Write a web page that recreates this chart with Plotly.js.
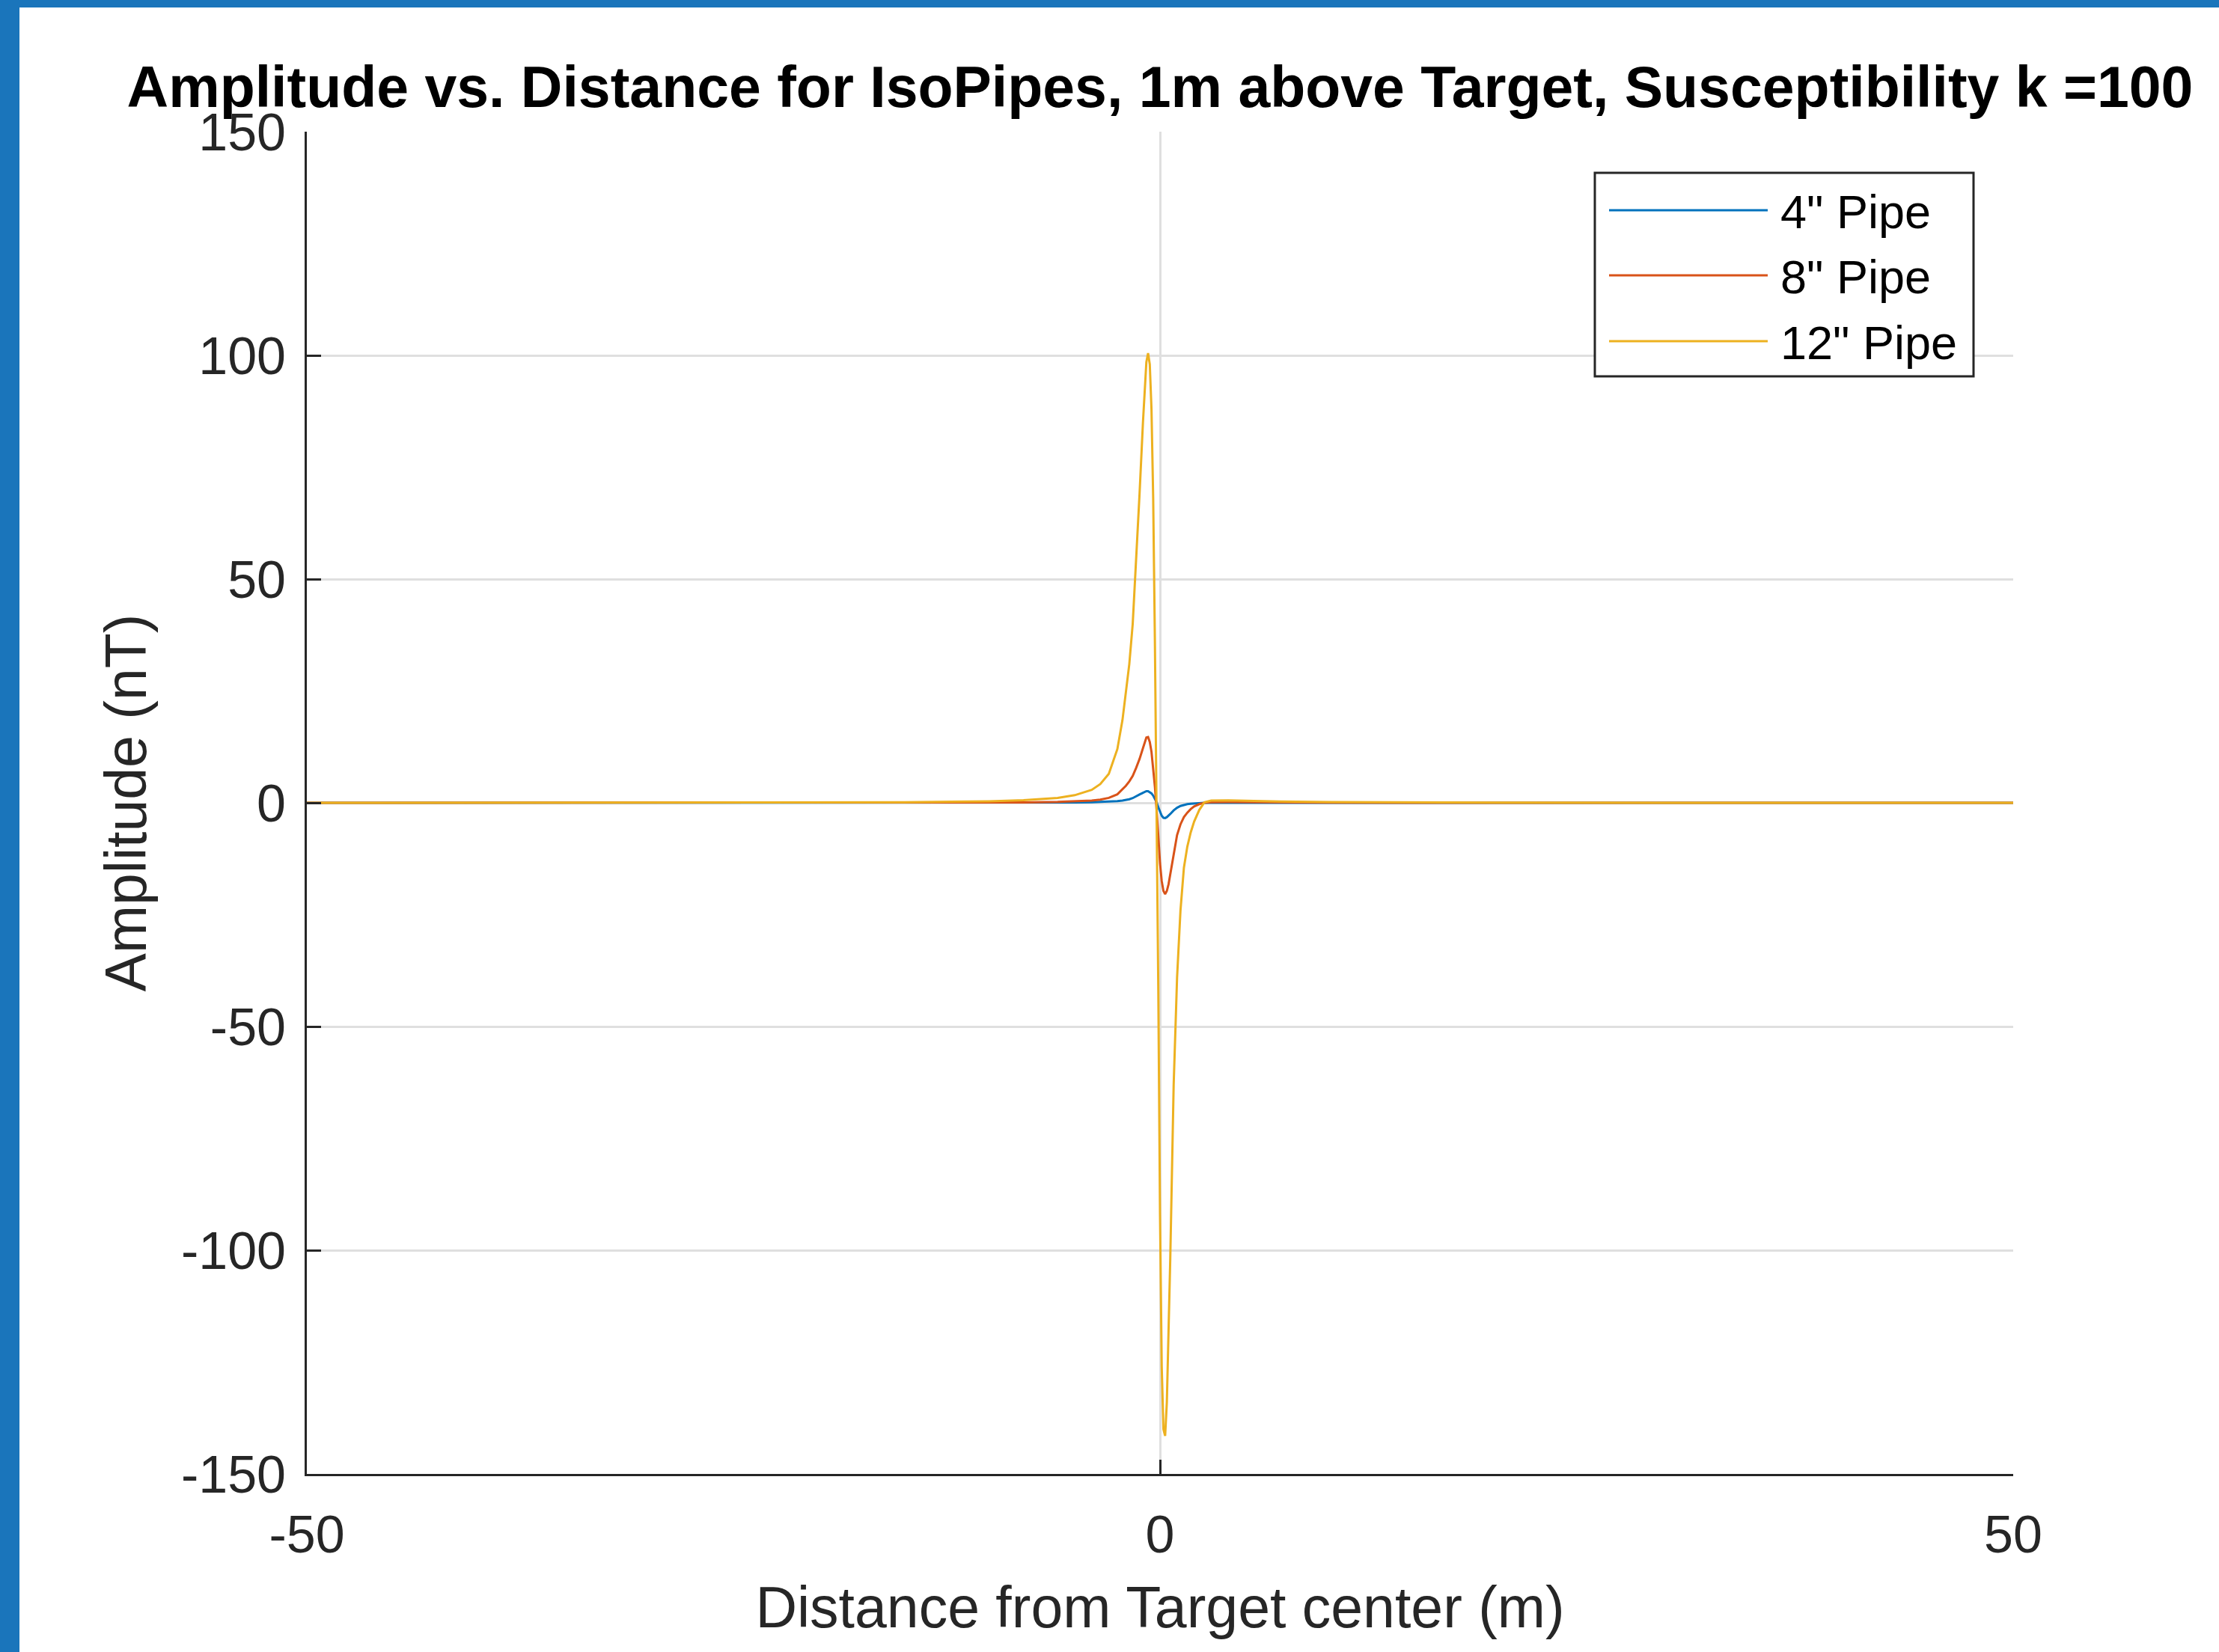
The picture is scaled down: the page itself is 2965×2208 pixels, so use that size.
<!DOCTYPE html>
<html>
<head>
<meta charset="utf-8">
<script src="https://cdn.plot.ly/plotly-3.0.1.min.js"></script>
<style>
  html, body { margin: 0; padding: 0; background: #ffffff; }
  #chart { width: 2965px; height: 2208px; }
</style>
</head>
<body>
<div id="chart"></div>
<script>
// ---------------- data ----------------
const distance = [-50, -30, -20, -15, -10, -8, -6, -5, -4, -3.5,
  -3, -2.5, -2.2, -2.0, -1.8, -1.6, -1.4, -1.2, -1.0, -0.9,
  -0.8, -0.7, -0.6, -0.5, -0.4, -0.3, -0.2, -0.1, 0, 0.1,
  0.2, 0.3, 0.4, 0.5, 0.6, 0.8, 1.0, 1.2, 1.4, 1.6,
  1.8, 2.0, 2.3, 2.6, 3, 4, 5, 7, 10, 15,
  20, 30, 50];

const pipe4 = [0, 0, 0, 0.01, 0.02, 0.03, 0.05, 0.08, 0.13, 0.18,
  0.25, 0.38, 0.5, 0.6, 0.8, 1.05, 1.4, 1.85, 2.25, 2.45,
  2.6, 2.6, 2.4, 2.1, 1.6, 0.9, 0.1, -1.0, -2.1, -2.9,
  -3.35, -3.4, -3.2, -2.9, -2.5, -1.7, -1.1, -0.7, -0.45, -0.3,
  -0.2, -0.12, -0.05, 0, 0.02, 0.03, 0.03, 0.02, 0.01, 0,
  0, 0, 0];

const pipe8 = [0, 0, 0.01, 0.02, 0.05, 0.1, 0.2, 0.3, 0.5, 0.7,
  1.1, 1.9, 3.0, 3.8, 4.8, 6.0, 7.8, 9.8, 12.2, 13.6,
  14.6, 14.7, 13.6, 11.4, 8.0, 3.6, -1.5, -7.5, -13.5, -17.5,
  -19.7, -20.4, -19.7, -18.2, -16.0, -11.0, -7.2, -4.8, -3.2, -2.2,
  -1.4, -0.8, -0.3, 0, 0.12, 0.15, 0.12, 0.08, 0.04, 0.02,
  0.01, 0, 0];

const pipe12 = [0, 0.01, 0.05, 0.12, 0.35, 0.6, 1.1, 1.7, 2.9, 4.2,
  6.5, 12, 18.5, 24.5, 31, 40, 54, 69, 85, 93,
  98.5, 100.5, 98, 88, 68, 36, 2, -42, -92, -126,
  -140, -141.5, -134, -120, -102, -63, -39, -24, -14.5, -9.8,
  -6.6, -4.2, -1.6, 0.1, 0.5, 0.55, 0.45, 0.3, 0.15, 0.06,
  0.03, 0.01, 0];

const seriesNames = ['4" Pipe', '8" Pipe', '12" Pipe'];
const seriesColors = ['#0072BD', '#D95319', '#EDB120'];
const seriesValues = [pipe4, pipe8, pipe12];

const xTickVals = [-50, 0, 50];
const xTickText = ['-50', '0', '50'];
const yTickVals = [-150, -100, -50, 0, 50, 100, 150];
const yTickText = ['-150', '-100', '-50', '0', '50', '100', '150'];

const titleText = 'Amplitude vs. Distance for IsoPipes, 1m above Target, Susceptibility k =100';
const xTitle = 'Distance from Target center (m)';
const yTitle = 'Amplitude (nT)';

// ---------------- layout geometry (pixels) ----------------
const W = 2965, H = 2208;
const L = 410, R = 2690, T = 176, B = 1970;
const xp = px => (px - L) / (R - L);
const yp = py => (B - py) / (B - T);

const FONT = 'Liberation Sans, Arial, sans-serif';
const AX = '#262626';
const GRID = '#dfdfdf';

const traces = seriesValues.map((vals, i) => ({
  type: 'scatter',
  mode: 'lines',
  x: distance,
  y: vals,
  name: seriesNames[i],
  line: { color: seriesColors[i], width: 3 },
  showlegend: false,
  hoverinfo: 'x+y+name'
}));

// frame + custom legend (long MATLAB-style legend lines)
const shapes = [
  { type: 'rect', xref: 'paper', yref: 'paper', x0: xp(0), x1: xp(W), y0: yp(0), y1: yp(10),
    fillcolor: '#1a75bb', line: { width: 0 }, layer: 'above' },
  { type: 'rect', xref: 'paper', yref: 'paper', x0: xp(0), x1: xp(26), y0: yp(0), y1: yp(H),
    fillcolor: '#1a75bb', line: { width: 0 }, layer: 'above' },
  { type: 'rect', xref: 'paper', yref: 'paper', x0: xp(2131), x1: xp(2637), y0: yp(231), y1: yp(503),
    fillcolor: '#ffffff', line: { color: AX, width: 3 }, layer: 'above' }
];
const annotations = [];
const legendRowY = [281, 368, 456];
seriesNames.forEach((nm, i) => {
  shapes.push({ type: 'line', xref: 'paper', yref: 'paper', x0: xp(2150), x1: xp(2362),
    y0: yp(legendRowY[i]), y1: yp(legendRowY[i]), line: { color: seriesColors[i], width: 3 }, layer: 'above' });
  annotations.push({ xref: 'paper', yref: 'paper', x: xp(2377), y: yp(legendRowY[i] + 2),
    xanchor: 'left', yanchor: 'middle', showarrow: false, text: nm,
    font: { family: FONT, size: 63, color: '#000000' } });
});

const layout = {
  width: W, height: H,
  margin: { l: L, r: W - R, t: T, b: H - B, pad: 0 },
  paper_bgcolor: '#ffffff',
  plot_bgcolor: '#ffffff',
  showlegend: false,
  title: {
    text: '<b>' + titleText + '</b>',
    font: { family: FONT, size: 77, color: '#000000' },
    xref: 'paper', x: 0.5, xanchor: 'center',
    yref: 'container', y: 1 - 116 / H, yanchor: 'middle'
  },
  xaxis: {
    range: [-50, 50],
    tickmode: 'array', tickvals: xTickVals, ticktext: xTickText,
    showgrid: true, gridcolor: GRID, gridwidth: 3,
    zeroline: false,
    showline: true, linecolor: AX, linewidth: 3, mirror: false,
    ticks: 'inside', ticklen: 19, tickwidth: 3, tickcolor: AX,
    tickfont: { family: FONT, size: 70, color: AX },
    ticklabelstandoff: 18,
    title: { text: xTitle, font: { family: FONT, size: 77, color: AX }, standoff: 33 }
  },
  yaxis: {
    range: [-150, 150],
    tickmode: 'array', tickvals: yTickVals, ticktext: yTickText,
    showgrid: true, gridcolor: GRID, gridwidth: 3,
    zeroline: false,
    showline: true, linecolor: AX, linewidth: 3, mirror: false,
    ticks: 'inside', ticklen: 19, tickwidth: 3, tickcolor: AX,
    tickfont: { family: FONT, size: 70, color: AX },
    ticklabelstandoff: 11,
    title: { text: yTitle, font: { family: FONT, size: 77, color: AX }, standoff: 21 }
  },
  shapes: shapes,
  annotations: annotations
};

Plotly.newPlot('chart', traces, layout, { staticPlot: true, displayModeBar: false });
</script>
</body>
</html>
